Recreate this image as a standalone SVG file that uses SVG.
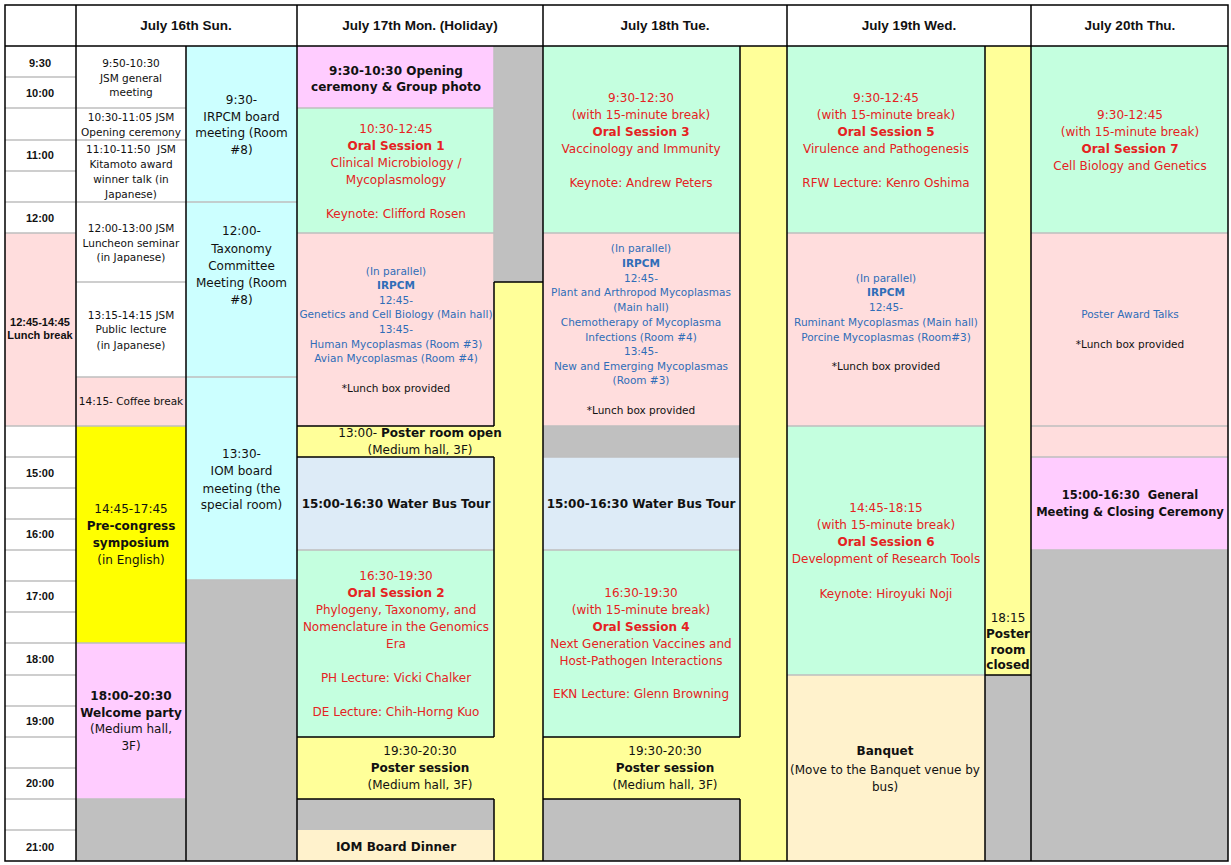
<svg xmlns="http://www.w3.org/2000/svg" width="1231" height="865" viewBox="0 0 1231 865">
<style>
.t{font-family:"DejaVu Sans",Verdana,sans-serif;text-anchor:middle;font-size:10.5px;fill:#111}
.m{font-size:12px}
.b{font-weight:bold}
.red{fill:#E52222}
.blue{fill:#2F6DB8}
.h{font-family:"Liberation Sans",Arial,sans-serif;font-weight:bold;font-size:13.5px;text-anchor:middle;fill:#111}
.tm{font-family:"Liberation Sans",Arial,sans-serif;font-weight:bold;font-size:11px;text-anchor:middle;fill:#111}
.sep{stroke:#BFBFBF;stroke-width:1.5;fill:none}
.bl{stroke:#000;stroke-width:1.5;fill:none}
.green{fill:#C4FFDF}.pink{fill:#FFDDDD}.cyan{fill:#CCFFFF}.mag{fill:#FFCCFF}.yel{fill:#FFFF00}.pyel{fill:#FFFF99}.gray{fill:#C0C0C0}.water{fill:#DDEBF7}.orange{fill:#FFF2CC}.white{fill:#FFFFFF}
</style>
<rect x="0" y="0" width="1231" height="865" fill="#FFFFFF"/>

<g id="header">
<rect x="5" y="5" width="1223" height="41" class="white"/>
<text class="h" x="186" y="30">July 16th Sun.</text>
<text class="h" x="420" y="30">July 17th Mon. (Holiday)</text>
<text class="h" x="665" y="30">July 18th Tue.</text>
<text class="h" x="909" y="30">July 19th Wed.</text>
<text class="h" x="1130" y="30">July 20th Thu.</text>
</g>

<g id="time-column">
<rect x="5" y="46" width="71" height="815" class="white"/>
<rect x="5" y="233" width="71" height="193" class="pink"/>
<path class="sep" d="M5 77H76M5 108H76M5 140H76M5 171H76M5 202H76M5 233H76M5 426H76M5 457H76M5 488H76M5 519H76M5 550H76M5 581H76M5 612H76M5 643H76M5 675H76M5 706H76M5 737H76M5 768H76M5 799H76M5 830H76"/>
<text class="tm" x="40" y="66.5">9:30</text>
<text class="tm" x="40" y="97">10:00</text>
<text class="tm" x="40" y="159">11:00</text>
<text class="tm" x="40" y="222">12:00</text>
<text class="tm" x="40" y="326">12:45-14:45</text>
<text class="tm" x="40" y="339">Lunch break</text>
<text class="tm" x="40" y="476.5">15:00</text>
<text class="tm" x="40" y="538">16:00</text>
<text class="tm" x="40" y="600">17:00</text>
<text class="tm" x="40" y="663">18:00</text>
<text class="tm" x="40" y="725">19:00</text>
<text class="tm" x="40" y="787">20:00</text>
<text class="tm" x="40" y="850.5">21:00</text>
</g>

<g id="sun-jsm-general">
<rect x="76" y="46" width="110" height="62" class="white"/>
<text class="t" x="131" y="66.5">9:50-10:30</text>
<text class="t" x="131" y="81.5">JSM general</text>
<text class="t" x="131" y="96">meeting</text>
</g>
<g id="sun-jsm-opening">
<rect x="76" y="108" width="110" height="32" class="white"/>
<text class="t" x="131" y="121">10:30-11:05 JSM</text>
<text class="t" x="131" y="136">Opening ceremony</text>
</g>
<g id="sun-kitamoto">
<rect x="76" y="140" width="110" height="62" class="white"/>
<text class="t" x="131" y="153" xml:space="preserve">11:10-11:50  JSM</text>
<text class="t" x="131" y="168">Kitamoto award</text>
<text class="t" x="131" y="183">winner talk (in</text>
<text class="t" x="131" y="197.5">Japanese)</text>
</g>
<g id="sun-luncheon">
<rect x="76" y="202" width="110" height="80" class="white"/>
<text class="t" x="131" y="232">12:00-13:00 JSM</text>
<text class="t" x="131" y="246.5">Luncheon seminar</text>
<text class="t" x="131" y="261">(in Japanese)</text>
</g>
<g id="sun-public-lecture">
<rect x="76" y="282" width="110" height="95" class="white"/>
<text class="t" x="131" y="318.5">13:15-14:15 JSM</text>
<text class="t" x="131" y="333">Public lecture</text>
<text class="t" x="131" y="348.5">(in Japanese)</text>
</g>
<g id="sun-coffee">
<rect x="76" y="377" width="110" height="49" class="pink"/>
<text class="t" x="131" y="405">14:15- Coffee break</text>
</g>
<g id="sun-symposium">
<rect x="76" y="426" width="110" height="217" class="yel"/>
<text class="t m" x="131" y="513">14:45-17:45</text>
<text class="t m b" x="131" y="530">Pre-congress</text>
<text class="t m b" x="131" y="546.5">symposium</text>
<text class="t m" x="131" y="564">(in English)</text>
</g>
<g id="sun-welcome">
<rect x="76" y="643" width="110" height="156" class="mag"/>
<text class="t m b" x="131" y="700">18:00-20:30</text>
<text class="t m b" x="131" y="717">Welcome party</text>
<text class="t m" x="131" y="732.5">(Medium hall,</text>
<text class="t m" x="131" y="750">3F)</text>
</g>
<g id="sun-a-empty">
<rect x="76" y="799" width="110" height="62" class="gray"/>
</g>

<g id="sun-irpcm-board">
<rect x="186" y="46" width="111" height="156" class="cyan"/>
<text class="t m" x="241.5" y="103.5">9:30-</text>
<text class="t m" x="241.5" y="120.5">IRPCM board</text>
<text class="t m" x="241.5" y="137">meeting (Room</text>
<text class="t m" x="241.5" y="154">#8)</text>
</g>
<g id="sun-taxonomy">
<rect x="186" y="202" width="111" height="175" class="cyan"/>
<text class="t m" x="241.5" y="234.5">12:00-</text>
<text class="t m" x="241.5" y="252.5">Taxonomy</text>
<text class="t m" x="241.5" y="269.5">Committee</text>
<text class="t m" x="241.5" y="287">Meeting (Room</text>
<text class="t m" x="241.5" y="304">#8)</text>
</g>
<g id="sun-iom-board">
<rect x="186" y="377" width="111" height="203" class="cyan"/>
<text class="t m" x="241.5" y="458">13:30-</text>
<text class="t m" x="241.5" y="475">IOM board</text>
<text class="t m" x="241.5" y="492.5">meeting (the</text>
<text class="t m" x="241.5" y="509">special room)</text>
</g>
<g id="sun-b-empty">
<rect x="186" y="580" width="111" height="281" class="gray"/>
</g>

<g id="mon-opening">
<rect x="297" y="46" width="197" height="62" class="mag"/>
<text class="t m b" x="396" y="74.5">9:30-10:30 Opening</text>
<text class="t m b" x="396" y="91">ceremony &amp; Group photo</text>
</g>
<g id="mon-oral1">
<rect x="297" y="108" width="197" height="125" class="green"/>
<text class="t m red" x="396" y="132.5">10:30-12:45</text>
<text class="t m b red" x="396" y="150">Oral Session 1</text>
<text class="t m red" x="396" y="167">Clinical Microbiology /</text>
<text class="t m red" x="396" y="184">Mycoplasmology</text>
<text class="t m red" x="396" y="217.5">Keynote: Clifford Rosen</text>
</g>
<g id="mon-irpcm">
<rect x="297" y="233" width="197" height="193" class="pink"/>
<text class="t blue" x="396" y="274.5">(In parallel)</text>
<text class="t b blue" x="396" y="289">IRPCM</text>
<text class="t blue" x="396" y="304">12:45-</text>
<text class="t blue" x="396" y="318">Genetics and Cell Biology (Main hall)</text>
<text class="t blue" x="396" y="333">13:45-</text>
<text class="t blue" x="396" y="348">Human Mycoplasmas (Room #3)</text>
<text class="t blue" x="396" y="362">Avian Mycoplasmas (Room #4)</text>
<text class="t" x="396" y="391.5">*Lunch box provided</text>
</g>
<g id="mon-side-gray">
<rect x="494" y="46" width="49" height="236" class="gray"/>
</g>
<g id="mon-poster-room">
<rect x="494" y="282" width="49" height="579" class="pyel"/>
<rect x="297" y="426" width="246" height="31" class="pyel"/>
<text class="t m" x="420" y="437"><tspan>13:00- </tspan><tspan class="b">Poster room open</tspan></text>
<text class="t m" x="420" y="454">(Medium hall, 3F)</text>
</g>
<g id="mon-water-bus">
<rect x="297" y="457" width="197" height="93" class="water"/>
<text class="t m b" x="396" y="507.5">15:00-16:30 Water Bus Tour</text>
</g>
<g id="mon-oral2">
<rect x="297" y="550" width="197" height="187" class="green"/>
<text class="t m red" x="396" y="580">16:30-19:30</text>
<text class="t m b red" x="396" y="597">Oral Session 2</text>
<text class="t m red" x="396" y="613.5">Phylogeny, Taxonomy, and</text>
<text class="t m red" x="396" y="631">Nomenclature in the Genomics</text>
<text class="t m red" x="396" y="647.5">Era</text>
<text class="t m red" x="396" y="682">PH Lecture: Vicki Chalker</text>
<text class="t m red" x="396" y="716">DE Lecture: Chih-Horng Kuo</text>
</g>
<g id="mon-poster-session">
<rect x="297" y="737" width="246" height="62" class="pyel"/>
<text class="t m" x="420" y="755">19:30-20:30</text>
<text class="t m b" x="420" y="772">Poster session</text>
<text class="t m" x="420" y="789">(Medium hall, 3F)</text>
</g>
<g id="mon-empty">
<rect x="297" y="799" width="197" height="31" class="gray"/>
</g>
<g id="mon-iom-dinner">
<rect x="297" y="830" width="197" height="31" class="orange"/>
<text class="t m b" x="396" y="851">IOM Board Dinner</text>
</g>

<g id="tue-oral3">
<rect x="543" y="46" width="197" height="187" class="green"/>
<text class="t m red" x="641" y="101.5">9:30-12:30</text>
<text class="t m red" x="641" y="118.5">(with 15-minute break)</text>
<text class="t m b red" x="641" y="136">Oral Session 3</text>
<text class="t m red" x="641" y="153">Vaccinology and Immunity</text>
<text class="t m red" x="641" y="187">Keynote: Andrew Peters</text>
</g>
<g id="tue-irpcm">
<rect x="543" y="233" width="197" height="193" class="pink"/>
<text class="t blue" x="641" y="252">(In parallel)</text>
<text class="t b blue" x="641" y="267">IRPCM</text>
<text class="t blue" x="641" y="282">12:45-</text>
<text class="t blue" x="641" y="296">Plant and Arthropod Mycoplasmas</text>
<text class="t blue" x="641" y="311">(Main hall)</text>
<text class="t blue" x="641" y="326">Chemotherapy of Mycoplasma</text>
<text class="t blue" x="641" y="340.5">Infections (Room #4)</text>
<text class="t blue" x="641" y="355">13:45-</text>
<text class="t blue" x="641" y="370">New and Emerging Mycoplasmas</text>
<text class="t blue" x="641" y="384">(Room #3)</text>
<text class="t" x="641" y="414">*Lunch box provided</text>
</g>
<g id="tue-gap">
<rect x="543" y="426" width="197" height="31" class="gray"/>
</g>
<g id="tue-water-bus">
<rect x="543" y="457" width="197" height="93" class="water"/>
<text class="t m b" x="641" y="507.5">15:00-16:30 Water Bus Tour</text>
</g>
<g id="tue-oral4">
<rect x="543" y="550" width="197" height="187" class="green"/>
<text class="t m red" x="641" y="597">16:30-19:30</text>
<text class="t m red" x="641" y="613.5">(with 15-minute break)</text>
<text class="t m b red" x="641" y="631">Oral Session 4</text>
<text class="t m red" x="641" y="647.5">Next Generation Vaccines and</text>
<text class="t m red" x="641" y="665">Host-Pathogen Interactions</text>
<text class="t m red" x="641" y="698">EKN Lecture: Glenn Browning</text>
</g>
<g id="tue-poster">
<rect x="740" y="46" width="47" height="815" class="pyel"/>
<rect x="543" y="737" width="244" height="62" class="pyel"/>
<text class="t m" x="665" y="755">19:30-20:30</text>
<text class="t m b" x="665" y="772">Poster session</text>
<text class="t m" x="665" y="789">(Medium hall, 3F)</text>
</g>
<g id="tue-empty">
<rect x="543" y="799" width="197" height="62" class="gray"/>
</g>

<g id="wed-oral5">
<rect x="787" y="46" width="198" height="187" class="green"/>
<text class="t m red" x="886" y="102">9:30-12:45</text>
<text class="t m red" x="886" y="118.5">(with 15-minute break)</text>
<text class="t m b red" x="886" y="136">Oral Session 5</text>
<text class="t m red" x="886" y="153">Virulence and Pathogenesis</text>
<text class="t m red" x="886" y="187">RFW Lecture: Kenro Oshima</text>
</g>
<g id="wed-irpcm">
<rect x="787" y="233" width="198" height="193" class="pink"/>
<text class="t blue" x="886" y="282">(In parallel)</text>
<text class="t b blue" x="886" y="296">IRPCM</text>
<text class="t blue" x="886" y="311">12:45-</text>
<text class="t blue" x="886" y="326">Ruminant Mycoplasmas (Main hall)</text>
<text class="t blue" x="886" y="340.5">Porcine Mycoplasmas (Room#3)</text>
<text class="t" x="886" y="370">*Lunch box provided</text>
</g>
<g id="wed-oral6">
<rect x="787" y="426" width="198" height="249" class="green"/>
<text class="t m red" x="886" y="511.5">14:45-18:15</text>
<text class="t m red" x="886" y="529">(with 15-minute break)</text>
<text class="t m b red" x="886" y="545.5">Oral Session 6</text>
<text class="t m red" x="886" y="562.5">Development of Research Tools</text>
<text class="t m red" x="886" y="597.5">Keynote: Hiroyuki Noji</text>
</g>
<g id="wed-banquet">
<rect x="787" y="675" width="198" height="186" class="orange"/>
<text class="t m b" x="885" y="755">Banquet</text>
<text class="t m" x="885" y="773.5">(Move to the Banquet venue by</text>
<text class="t m" x="885" y="791">bus)</text>
</g>
<g id="wed-poster-room">
<rect x="985" y="46" width="46" height="629" class="pyel"/>
<text class="t m" x="1008" y="621.5">18:15</text>
<text class="t m b" x="1008" y="637.5">Poster</text>
<text class="t m b" x="1008" y="653.5">room</text>
<text class="t m b" x="1008" y="669">closed</text>
</g>
<g id="wed-empty">
<rect x="985" y="675" width="46" height="186" class="gray"/>
</g>

<g id="thu-oral7">
<rect x="1031" y="46" width="197" height="187" class="green"/>
<text class="t m red" x="1130" y="119">9:30-12:45</text>
<text class="t m red" x="1130" y="136">(with 15-minute break)</text>
<text class="t m b red" x="1130" y="153">Oral Session 7</text>
<text class="t m red" x="1130" y="170">Cell Biology and Genetics</text>
</g>
<g id="thu-poster-award">
<rect x="1031" y="233" width="197" height="193" class="pink"/>
<text class="t blue" x="1130" y="318">Poster Award Talks</text>
<text class="t" x="1130" y="348">*Lunch box provided</text>
</g>
<g id="thu-gap">
<rect x="1031" y="426" width="197" height="31" class="pink"/>
</g>
<g id="thu-closing">
<rect x="1031" y="457" width="197" height="93" class="mag"/>
<text class="t b" x="1130" y="498.5" style="font-size:11.5px" xml:space="preserve">15:00-16:30  General</text>
<text class="t b" x="1130" y="516" style="font-size:11.5px">Meeting &amp; Closing Ceremony</text>
</g>
<g id="thu-empty">
<rect x="1031" y="550" width="197" height="311" class="gray"/>
</g>

<g id="grid-lines">
<path class="sep" d="M76 108H186M76 140H186M76 202H186M76 282H186M76 377H186M76 426H186M76 643H186M76 799H186"/>
<path class="sep" d="M186 202H297M186 377H297M186 580H297"/>
<path class="sep" d="M297 108H494M297 233H494M297 550H494M494 46V282"/>
<path class="sep" d="M543 233H740M543 426H740M543 457H740M543 550H740"/>
<path class="sep" d="M787 233H985M787 426H985M787 675H985"/>
<path class="sep" d="M1031 233H1228M1031 426H1228M1031 457H1228M1031 550H1228"/>
<path class="bl" d="M297 426H494M297 457H494M297 737H494M297 799H494M494 282H543"/>
<path class="bl" d="M494 282V426M494 457V737M494 799V861"/>
<path class="bl" d="M543 737H740M543 799H740M740 46V737M740 799V861"/>
<path class="bl" d="M985 675H1031"/>
<path class="bl" d="M5 46H1228M76 5V861M186 46V861M297 5V861M543 5V861M787 5V861M985 46V861M1031 5V861"/>
<rect x="5" y="5" width="1223" height="856" class="bl" stroke-width="2"/>
</g>
</svg>
